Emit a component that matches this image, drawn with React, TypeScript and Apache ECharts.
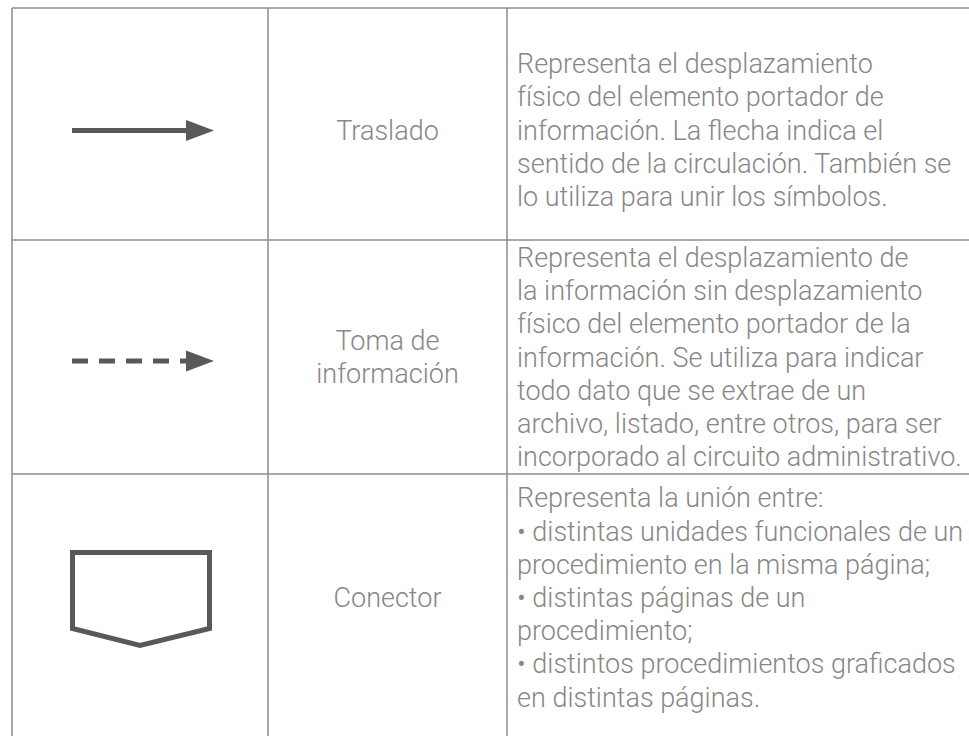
import React, { useEffect, useRef } from "react";
import * as echarts from "echarts";

const symbolNames = ["Traslado", "Toma de\ninformación", "Conector"];
const descriptions = [
  [
    "Representa el desplazamiento",
    "físico del elemento portador de",
    "información. La flecha indica el",
    "sentido de la circulación. También se",
    "lo utiliza para unir los símbolos.",
  ],
  [
    "Representa el desplazamiento de",
    "la información sin desplazamiento",
    "físico del elemento portador de la",
    "información. Se utiliza para indicar",
    "todo dato que se extrae de un",
    "archivo, listado, entre otros, para ser",
    "incorporado al circuito administrativo.",
  ],
  [
    "Representa la unión entre:",
    "• distintas unidades funcionales de un",
    "procedimiento en la misma página;",
    "• distintas páginas de un",
    "procedimiento;",
    "• distintos procedimientos graficados",
    "en distintas páginas.",
  ],
];
const rowTops = [8, 240, 474];
const rowBottom = 736;
const colX = [12, 268, 507];

const LINE_COLOR = "#8c8c8c";
const TEXT_COLOR = "#878787";
const SYMBOL_COLOR = "#58595b";
const FONT = "'Roboto Light', Roboto";
const FONT_SIZE = 27;
const LINE_H = 33.2;

export default function App() {
  const ref = useRef<HTMLDivElement>(null);
  useEffect(() => {
    if (!ref.current) return;
    const chart = echarts.init(ref.current, undefined, { renderer: "svg" });
    const elements: any[] = [];
    const W = 969;

    rowTops.forEach((y) => {
      elements.push({
        type: "line",
        shape: { x1: colX[0], y1: y, x2: W, y2: y },
        style: { stroke: LINE_COLOR, lineWidth: 1.5 },
      });
    });
    colX.forEach((x) => {
      elements.push({
        type: "line",
        shape: { x1: x, y1: rowTops[0], x2: x, y2: rowBottom },
        style: { stroke: LINE_COLOR, lineWidth: 1.5 },
      });
    });

    const rowCenters = [130.5, 357.5, 598];
    const textStyle = (text: string, align: string) => ({
      text,
      fill: TEXT_COLOR,
      fontFamily: FONT,
      fontSize: FONT_SIZE,
      fontWeight: 300,
      align,
      verticalAlign: "middle",
    });

    symbolNames.forEach((name, i) => {
      const lines = name.split("\n");
      const start = rowCenters[i] - ((lines.length - 1) * LINE_H) / 2;
      lines.forEach((ln, j) => {
        elements.push({
          type: "text",
          x: (colX[1] + colX[2]) / 2,
          y: start + j * LINE_H,
          style: textStyle(ln, "center"),
        });
      });
    });

    descriptions.forEach((lines, i) => {
      const start = rowCenters[i] - ((lines.length - 1) * LINE_H) / 2;
      lines.forEach((ln, j) => {
        elements.push({
          type: "text",
          x: 517,
          y: start + j * LINE_H,
          style: textStyle(ln, "left"),
        });
      });
    });

    const ay1 = rowCenters[0];
    elements.push({
      type: "line",
      shape: { x1: 72, y1: ay1, x2: 188, y2: ay1 },
      style: { stroke: SYMBOL_COLOR, lineWidth: 5 },
    });
    elements.push({
      type: "polygon",
      shape: { points: [[186, ay1 - 10.5], [214, ay1], [186, ay1 + 10.5]] },
      style: { fill: SYMBOL_COLOR },
    });

    const ay2 = 361;
    elements.push({
      type: "line",
      shape: { x1: 72, y1: ay2, x2: 188, y2: ay2 },
      style: { stroke: SYMBOL_COLOR, lineWidth: 5, lineDash: [16, 11] },
    });
    elements.push({
      type: "polygon",
      shape: { points: [[186, ay2 - 10.5], [214, ay2], [186, ay2 + 10.5]] },
      style: { fill: SYMBOL_COLOR },
    });

    elements.push({
      type: "polygon",
      shape: {
        points: [
          [72.5, 552.5],
          [209.5, 552.5],
          [209.5, 628.5],
          [140, 645.5],
          [72.5, 628.5],
        ],
      },
      style: { fill: "none", stroke: SYMBOL_COLOR, lineWidth: 5, lineJoin: "miter" },
    });

    chart.setOption({
      animation: false,
      backgroundColor: "#ffffff",
      graphic: { elements },
    });
    return () => chart.dispose();
  }, []);
  return (
    <div
      ref={ref}
      style={{ position: "absolute", left: 0, top: 0, width: 969, height: 736 }}
    />
  );
}
